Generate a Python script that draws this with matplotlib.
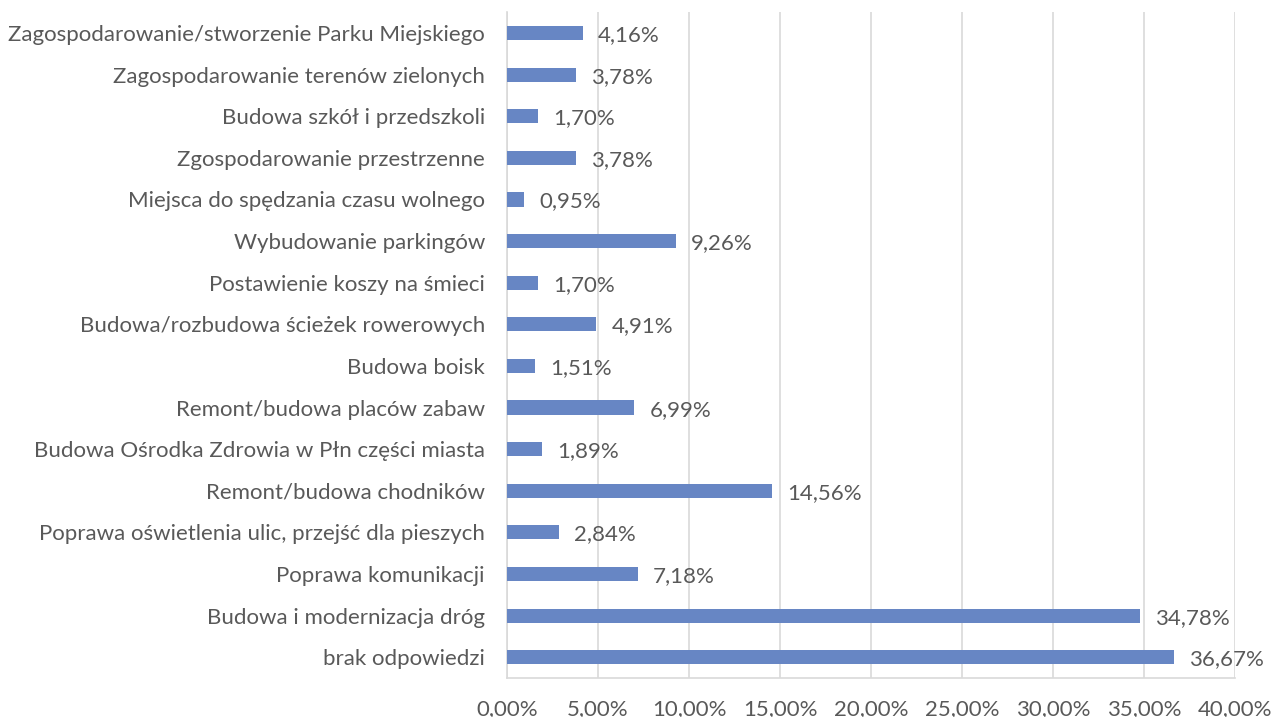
import matplotlib
matplotlib.use("Agg")
import matplotlib.pyplot as plt
from matplotlib.ticker import FuncFormatter

# categories listed bottom to top
categories = [
    "brak odpowiedzi",
    "Budowa i modernizacja dróg",
    "Poprawa komunikacji",
    "Poprawa oświetlenia ulic, przejść dla pieszych",
    "Remont/budowa chodników",
    "Budowa Ośrodka Zdrowia w Płn części miasta",
    "Remont/budowa placów zabaw",
    "Budowa boisk",
    "Budowa/rozbudowa ścieżek rowerowych",
    "Postawienie koszy na śmieci",
    "Wybudowanie parkingów",
    "Miejsca do spędzania czasu wolnego",
    "Zgospodarowanie przestrzenne",
    "Budowa szkół i przedszkoli",
    "Zagospodarowanie terenów zielonych",
    "Zagospodarowanie/stworzenie Parku Miejskiego",
]
shares = [36.67, 34.78, 7.18, 2.84, 14.56, 1.89, 6.99, 1.51,
          4.91, 1.70, 9.26, 0.95, 3.78, 1.70, 3.78, 4.16]
xticks = [0, 5, 10, 15, 20, 25, 30, 35, 40]

FONT = ["Lato", "DejaVu Sans"]
GREY = "#595959"
BAR = "#6786C4"


def pl(v, decimals=2):
    return f"{v:.{decimals}f}".replace(".", ",") + "%"


fig = plt.figure(figsize=(12.71, 7.17), dpi=100)
ax = fig.add_axes([0.399, 0.0544, 0.5725, 0.9286])

y = range(len(categories))
ax.barh(y, shares, height=0.34, color=BAR, zorder=3)
for yi, v in zip(y, shares):
    ax.annotate(pl(v), (v, yi), xytext=(11, -1.5), textcoords="offset points",
                va="center", ha="left", fontsize=16, color=GREY, family=FONT)

ax.set_xlim(0, 40)
ax.set_ylim(-0.5, len(categories) - 0.5)
ax.set_xticks(xticks)
ax.xaxis.set_major_formatter(FuncFormatter(lambda v, _: pl(v)))
ax.set_yticks(list(y))
ax.set_yticklabels(categories)
for lab in ax.get_xticklabels() + ax.get_yticklabels():
    lab.set_family(FONT)
    lab.set_fontsize(16)
    lab.set_color(GREY)
ax.tick_params(axis="both", length=0)
ax.tick_params(axis="x", pad=15)
ax.tick_params(axis="y", pad=16)

ax.grid(axis="x", color="#D9D9D9", lw=1.2, zorder=0)
for side in ["top", "right"]:
    ax.spines[side].set_visible(False)
for side in ["left", "bottom"]:
    ax.spines[side].set_color("#D9D9D9")
    ax.spines[side].set_linewidth(1.2)

fig.savefig("out.png", dpi=100, facecolor="white")
